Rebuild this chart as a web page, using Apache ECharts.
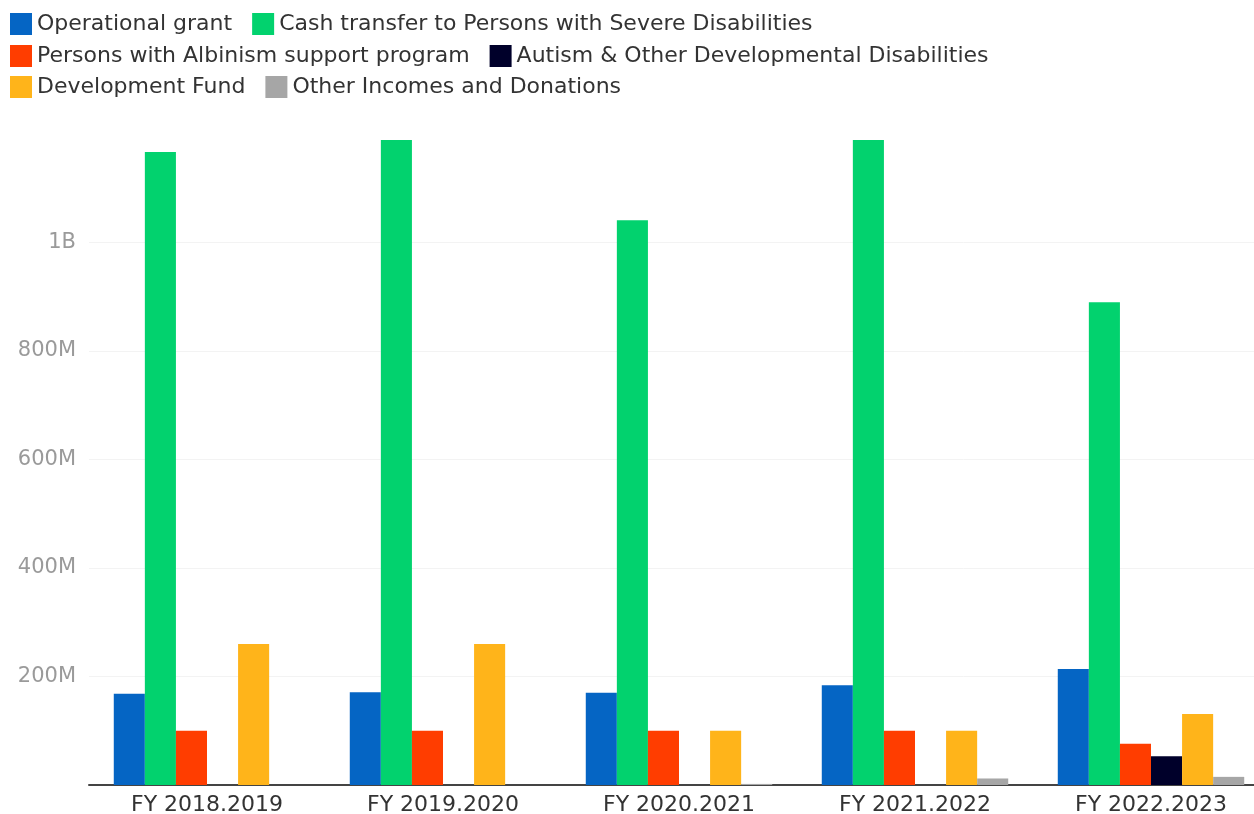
<!DOCTYPE html>
<html>
<head>
<meta charset="utf-8">
<script src="https://cdn.jsdelivr.net/npm/echarts@6/dist/echarts.min.js"></script>
<style>
  html, body { margin: 0; padding: 0; background: #fff; }
  #chart { width: 1254px; height: 814px; }
</style>
</head>
<body>
<div id="chart"></div>
<script>
// 类目 (财年)
const years = ["FY 2018.2019", "FY 2019.2020", "FY 2020.2021", "FY 2021.2022", "FY 2022.2023"];
// 各项资金，单位：百万
const operationalGrant = [168, 171, 170, 184, 214];
const cashTransfer = [1167, 1189, 1041, 1189, 890];
const albinismSupport = [100, 100, 100, 100, 76];
const autismSupport = [null, null, null, null, 53];
const developmentFund = [260, 260, 100, 100, 131];
const otherIncomes = [null, null, 2, 12, 15];
// 纵轴刻度
const yTicks = [0, 200, 400, 600, 800, 1000, 1200];

const seriesNames = [
  "Operational grant",
  "Cash transfer to Persons with Severe Disabilities",
  "Persons with Albinism support program",
  "Autism & Other Developmental Disabilities",
  "Development Fund",
  "Other Incomes and Donations",
];
const seriesData = [operationalGrant, cashTransfer, albinismSupport, autismSupport, developmentFund, otherIncomes];
const colors = ["#0565c4", "#02d26e", "#ff3d00", "#00002a", "#ffb41a", "#a6a6a6"];

const font = "DejaVu Sans";

const chart = echarts.init(document.getElementById("chart"));

// 图例分三行，每行两项
const legendRow = (names, top) => ({
  data: names,
  left: 10,
  top: top,
  orient: "horizontal",
  itemWidth: 22,
  itemHeight: 22,
  itemGap: 20,
  padding: 0,
  icon: "rect",
  textStyle: { fontFamily: font, fontSize: 22, color: "#333" },
});

const option = {
  animation: false,
  color: colors,
  legend: [
    legendRow(seriesNames.slice(0, 2), 13),
    legendRow(seriesNames.slice(2, 4), 45),
    legendRow(seriesNames.slice(4, 6), 76),
  ],
  // 右侧超出画布（原图被裁切）
  grid: {
    left: 89,
    width: 1180,
    top: 134,
    bottom: 29,
    containLabel: false,
    outerBoundsMode: "none",
  },
  xAxis: {
    type: "category",
    data: years,
    axisLine: { lineStyle: { color: "#444", width: 2 } },
    axisTick: { show: false },
    axisLabel: { fontFamily: font, fontSize: 22, color: "#333", margin: 9 },
  },
  yAxis: {
    type: "value",
    min: yTicks[0],
    max: yTicks[yTicks.length - 1],
    interval: 200,
    axisLine: { show: false },
    axisTick: { show: false },
    axisLabel: {
      fontFamily: font,
      fontSize: 21,
      color: "#9a9a9a",
      margin: 13,
      showMinLabel: false,
      showMaxLabel: false,
      formatter: (v) => (v >= 1000 ? v / 1000 + "B" : v + "M"),
    },
    splitLine: { showMaxLine: false, lineStyle: { color: "#f3f3f3", width: 1 } },
  },
  series: seriesNames.map((name, i) => ({
    name: name,
    type: "bar",
    data: seriesData[i],
    barGap: "0%",
    barCategoryGap: "21%",
  })),
};

chart.setOption(option);
</script>
</body>
</html>
